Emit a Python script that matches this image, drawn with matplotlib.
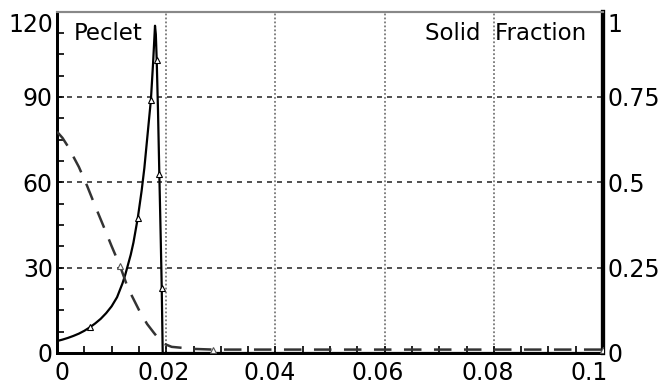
import numpy as np
import matplotlib
matplotlib.use('Agg')
import matplotlib.pyplot as plt
from matplotlib.ticker import MultipleLocator
from matplotlib.transforms import ScaledTranslation

# Peclet number along the domain (left axis)
pe_x = [0, 0.001, 0.002, 0.003, 0.004, 0.005, 0.006, 0.007, 0.008, 0.009,
        0.010, 0.011, 0.012, 0.0125, 0.013, 0.0135, 0.014, 0.0148, 0.0155, 0.016,
        0.0165, 0.0172, 0.0176, 0.01795, 0.0181, 0.01826, 0.0185, 0.01874, 0.0190,
        0.01918, 0.01936, 0.1]
pe_y = [4.2, 4.7, 5.3, 6.0, 6.8, 7.8, 9.0, 10.4, 12.0, 14.0,
        16.4, 19.6, 24.5, 27.5, 31, 34.5, 38.8, 47.5, 57, 65,
        75, 89, 102, 115, 112, 103, 85, 63, 40,
        23, 0, 0]
pe_marks = [6, 17, 21, 25, 27, 29]

# Solid fraction (right axis)
sf_x = [0, 0.001, 0.002, 0.003, 0.004, 0.0055, 0.007, 0.0085, 0.010, 0.01154,
        0.013, 0.0152, 0.0165, 0.0178, 0.0193, 0.021, 0.025, 0.0286, 0.1]
sf_y = [0.648, 0.63, 0.605, 0.575, 0.545, 0.49, 0.43, 0.372, 0.313, 0.255,
        0.19, 0.12, 0.085, 0.058, 0.029, 0.018, 0.012, 0.01, 0.01]
sf_marks = [9, 17, 18]

x_ticks = [0, 0.02, 0.04, 0.06, 0.08, 0.1]
x_labels = ['0', '0.02', '0.04', '0.06', '0.08', '0.1']
pe_ticks = [0, 30, 60, 90, 120]
sf_ticks = [0, 0.25, 0.5, 0.75, 1]
sf_labels = ['0', '0.25', '0.5', '0.75', '1']

fs = 17
fig = plt.figure(figsize=(6.6, 3.86), dpi=100)
ax = fig.add_axes([57 / 660, 33 / 386, 546 / 660, 341.5 / 386])
ax2 = ax.twinx()

ax.set_xlim(0, 0.1)
ax.set_ylim(0, 120)
ax2.set_ylim(0, 1)

# grid
for v in [30, 60, 90]:
    ax.axhline(v, color='#333333', lw=1.2, ls=(0, (3, 3)), zorder=1)
for v in x_ticks[1:-1]:
    ax.axvline(v, color='#777777', lw=1.3, ls=(0, (1, 1.2)), zorder=1)

# curves
ax.plot(pe_x, pe_y, color='black', lw=1.6, zorder=3)
ax.plot([pe_x[i] for i in pe_marks], [pe_y[i] for i in pe_marks], ls='none',
        marker='^', ms=4.5, mfc='white', mec='black', mew=0.8, zorder=4)
ax2.plot(sf_x, sf_y, color='#333333', lw=1.8, ls=(0, (7, 5)), zorder=3)
ax2.plot([sf_x[i] for i in sf_marks], [sf_y[i] for i in sf_marks], ls='none',
         marker='^', ms=4.5, mfc='white', mec='#555555', mew=0.8, zorder=4)

# ticks
ax.set_xticks(x_ticks)
ax.set_xticklabels(x_labels, fontsize=fs)
ax.xaxis.set_minor_locator(MultipleLocator(0.005))
ax.set_yticks(pe_ticks)
ax.set_yticklabels([str(t) for t in pe_ticks], fontsize=fs)
ax.yaxis.set_minor_locator(MultipleLocator(7.5))
ax.tick_params(axis='both', which='both', direction='in', color='black')
ax.tick_params(axis='both', which='major', length=5, width=1.2, pad=3)
ax.tick_params(axis='both', which='minor', length=5, width=1.2)
ax.tick_params(axis='x', pad=6)

ax2.set_yticks(sf_ticks)
ax2.set_yticklabels(sf_labels, fontsize=fs)
ax2.tick_params(axis='y', direction='in', length=0, pad=3)

# nudge tick labels the way the original figure places them
x_shift = [5, -3, -6, -7, -6, -14]
for lab, dx in zip(ax.get_xticklabels(), x_shift):
    lab.set_transform(lab.get_transform() + ScaledTranslation(dx / 100, 0, fig.dpi_scale_trans))
ax.get_yticklabels()[-1].set_transform(
    ax.get_yticklabels()[-1].get_transform() + ScaledTranslation(0, -0.11, fig.dpi_scale_trans))
ax2.get_yticklabels()[-1].set_transform(
    ax2.get_yticklabels()[-1].get_transform() + ScaledTranslation(0, -0.11, fig.dpi_scale_trans))

for a in (ax, ax2):
    a.spines['top'].set_color('#888888')
    a.spines['top'].set_linewidth(1.5)
    a.spines['left'].set_linewidth(2)
    a.spines['bottom'].set_linewidth(2)
    a.spines['right'].set_linewidth(3)

ax.text(0.03, 0.935, 'Peclet', transform=ax.transAxes, fontsize=16.5,
        ha='left', va='center')
ax.text(0.97, 0.935, 'Solid  Fraction', transform=ax.transAxes, fontsize=16.5,
        ha='right', va='center')

fig.savefig('out.png', dpi=100)
